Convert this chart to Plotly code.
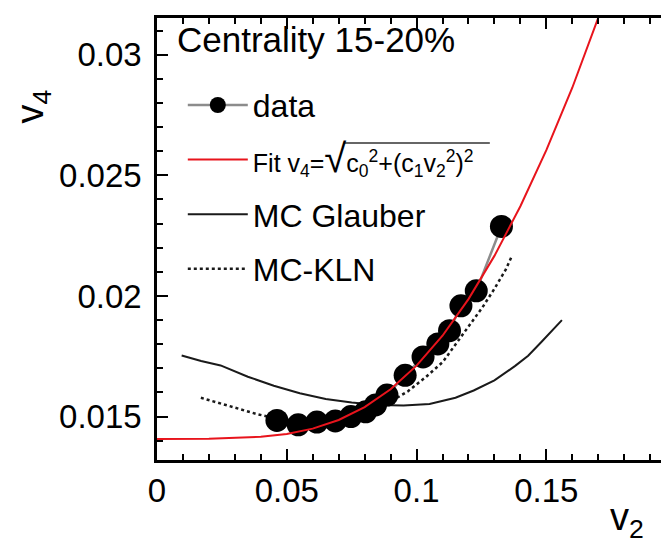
import plotly.graph_objects as go

# ---- data ----
data_v2 = [0.0462, 0.0544, 0.0616, 0.0687, 0.0747, 0.0804, 0.0842, 0.0886,
           0.0956, 0.1025, 0.1082, 0.1127, 0.1171, 0.1230, 0.1327]
data_v4 = [0.01484, 0.01466, 0.01477, 0.01482, 0.01500, 0.01520, 0.01548, 0.01589,
           0.01671, 0.01747, 0.01801, 0.01856, 0.01959, 0.02021, 0.02288]

fit_v2 = [0.0, 0.02, 0.04, 0.05, 0.06, 0.07, 0.08, 0.09, 0.10, 0.11,
          0.12, 0.13, 0.14, 0.15, 0.16, 0.17, 0.175]
fit_v4 = [0.01407, 0.01408, 0.01416, 0.01428, 0.01450, 0.01486, 0.01539, 0.01613,
          0.01711, 0.01835, 0.01987, 0.02166, 0.02372, 0.02604, 0.02863, 0.03147, 0.03298]

glauber_v2 = [0.0095, 0.017, 0.0245, 0.0275, 0.035, 0.045, 0.055, 0.065, 0.075, 0.085,
              0.095, 0.105, 0.115, 0.122, 0.130, 0.138, 0.143, 0.148, 0.156]
glauber_v4 = [0.01753, 0.01730, 0.01712, 0.01698, 0.01665, 0.01628, 0.01597, 0.01573,
              0.01558, 0.01548, 0.01546, 0.01552, 0.01578, 0.01608, 0.01650, 0.01710,
              0.01752, 0.01808, 0.01900]

kln_v2 = [0.0169, 0.025, 0.0386, 0.046, 0.055, 0.065, 0.075, 0.085, 0.0967, 0.1037,
          0.1101, 0.1152, 0.1203, 0.1254, 0.1299, 0.1344, 0.1365]
kln_v4 = [0.01578, 0.01553, 0.01510, 0.01492, 0.01480, 0.01480, 0.01495, 0.01530,
          0.01605, 0.01665, 0.01726, 0.01802, 0.01877, 0.01953, 0.02028, 0.02110, 0.02160]

x_tickvals = [0, 0.05, 0.1, 0.15]
x_ticktext = ["0", "0.05", "0.1", "0.15"]
y_tickvals = [0.015, 0.02, 0.025, 0.03]
y_ticktext = ["0.015", "0.02", "0.025", "0.03"]

FONT = "Liberation Sans, Arial, Helvetica, sans-serif"

fig = go.Figure()

fig.add_trace(go.Scatter(
    x=glauber_v2, y=glauber_v4, mode="lines", name="MC Glauber",
    line=dict(color="#1a1a1a", width=2), legendgroup="c", legendrank=3))
fig.add_trace(go.Scatter(
    x=kln_v2, y=kln_v4, mode="lines", name="MC-KLN",
    line=dict(color="#1a1a1a", width=2.5, dash="dot"), legendgroup="d", legendrank=4))
fig.add_trace(go.Scatter(
    x=data_v2, y=data_v4, mode="lines+markers", name="data",
    line=dict(color="#8c8c8c", width=2.5),
    marker=dict(color="black", size=23, symbol="circle"),
    legendgroup="a", legendrank=1))
fig.add_trace(go.Scatter(
    x=fit_v2, y=fit_v4, mode="lines",
    name=("<span style='font-size:25px'>Fit v<sub>4</sub>=</span>"
          "<span style='font-size:40px'>√</span>"
          "<span style='font-size:25px'>c<sub>0</sub><sup>2</sup>+(c<sub>1</sub>v<sub>2</sub><sup>2</sup>)<sup>2</sup></span>"),
    line=dict(color="#e8141c", width=2), legendgroup="b", legendrank=2))

axis_common = dict(
    showline=True, linecolor="black", linewidth=2.5, mirror="allticks",
    ticks="inside", ticklen=11, tickwidth=2, tickcolor="black",
    showgrid=False, zeroline=False,
    tickfont=dict(family=FONT, size=33, color="black"),
)

fig.update_xaxes(range=[0, 0.1988], tickvals=x_tickvals, ticktext=x_ticktext,
                 minor=dict(dtick=0.01, ticks="inside", ticklen=6, tickwidth=2,
                            tickcolor="black", showgrid=False),
                 ticklabelstandoff=0, **axis_common)
fig.update_yaxes(range=[0.0132, 0.03152], tickvals=y_tickvals, ticktext=y_ticktext,
                 minor=dict(dtick=0.001, ticks="inside", ticklen=6, tickwidth=2,
                            tickcolor="black", showgrid=False),
                 ticklabelstandoff=6, **axis_common)

fig.update_layout(
    width=669, height=545,
    margin=dict(l=149, r=1, t=10, b=93),
    paper_bgcolor="white", plot_bgcolor="white",
    font=dict(family=FONT, color="black"),
    showlegend=True,
    legend=dict(x=0.05, y=0.865, xanchor="left", yanchor="top",
                bgcolor="rgba(0,0,0,0)", font=dict(family=FONT, size=32, color="black"),
                tracegroupgap=10, itemwidth=60),
    shapes=[
        dict(type="line", xref="paper", yref="paper", x0=0.362, x1=0.645,
             y0=0.717, y1=0.717, line=dict(color="#333333", width=1.5)),
    ],
    annotations=[
        dict(text="Centrality 15-20%", xref="paper", yref="paper", x=0.035, y=1.0,
             xanchor="left", yanchor="top", showarrow=False,
             font=dict(family=FONT, size=35, color="black")),
        dict(text="v<sub>4</sub>", xref="paper", yref="paper", x=-0.24, y=0.80,
             xanchor="center", yanchor="middle", textangle=-90, showarrow=False,
             font=dict(family=FONT, size=38, color="black")),
        dict(text="v<sub>2</sub>", xref="paper", yref="paper", x=0.91, y=-0.135,
             xanchor="center", yanchor="middle", showarrow=False,
             font=dict(family=FONT, size=38, color="black")),
    ],
)

fig.write_html("out.html")
